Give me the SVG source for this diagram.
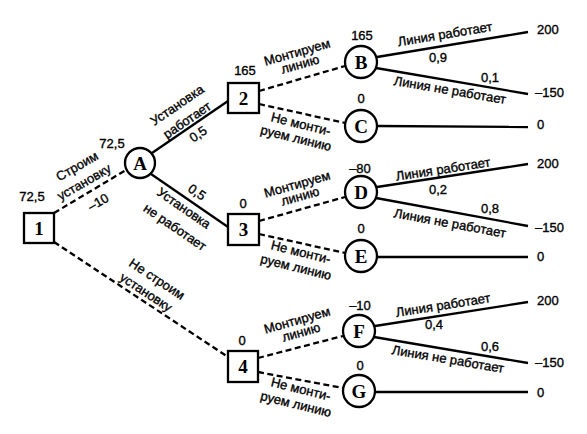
<svg xmlns="http://www.w3.org/2000/svg" width="587" height="434" viewBox="0 0 587 434">
<style>
.bg{fill:#fff}
.sq,.ci{fill:#fff;stroke:#000;stroke-width:2.3}
.nl{font-family:"Liberation Serif","Times New Roman",serif;font-weight:bold;font-size:19px;text-anchor:middle;fill:#000}
.s{stroke:#000;stroke-width:2.3;fill:none}
.d{stroke:#000;stroke-width:2.3;fill:none;stroke-dasharray:6 3.5}
.t{font-family:"Liberation Sans",Arial,sans-serif;font-size:13px;fill:#000;stroke:#000;stroke-width:0.35;text-anchor:middle}
.v{font-family:"Liberation Sans",Arial,sans-serif;font-size:13px;fill:#000;stroke:#000;stroke-width:0.35}
</style>
<rect class="bg" width="587" height="434"/>
<g id="connectors">
<line class="d" x1="54" y1="213" x2="126" y2="170"/>
<line class="d" x1="54" y1="242" x2="228" y2="357"/>
<line class="s" x1="152" y1="153" x2="228" y2="101"/>
<line class="s" x1="151" y1="174" x2="228" y2="227"/>
<line class="d" x1="259" y1="91" x2="345" y2="66"/>
<line class="d" x1="259" y1="104" x2="345" y2="123"/>
<line class="d" x1="259" y1="221" x2="345" y2="197"/>
<line class="d" x1="259" y1="234" x2="345" y2="253"/>
<line class="d" x1="258" y1="358" x2="343" y2="336"/>
<line class="d" x1="258" y1="372" x2="343" y2="388"/>
<line class="s" x1="377" y1="57" x2="528" y2="32"/>
<line class="s" x1="376" y1="68" x2="528" y2="94"/>
<line class="s" x1="377" y1="126" x2="528" y2="127"/>
<line class="s" x1="377" y1="187" x2="528" y2="164"/>
<line class="s" x1="376" y1="198" x2="528" y2="226"/>
<line class="s" x1="377" y1="257" x2="528" y2="257"/>
<line class="s" x1="375" y1="326" x2="528" y2="302"/>
<line class="s" x1="374" y1="337" x2="528" y2="363"/>
<line class="s" x1="375" y1="392" x2="528" y2="392"/>
<text class="t" transform="translate(77,166) rotate(-30)" dy=".35em">Строим</text>
<text class="t" transform="translate(84,182) rotate(-30)" dy=".35em">установку</text>
<text class="t" transform="translate(98,202) rotate(-30)" dy=".35em">–10</text>
<text class="t" transform="translate(157,279) rotate(33.5)" dy=".35em">Не строим</text>
<text class="t" transform="translate(146,292) rotate(33.5)" dy=".35em">установку</text>
<text class="t" transform="translate(177,105) rotate(-34.4)" dy=".35em">Установка</text>
<text class="t" transform="translate(187,120) rotate(-34.4)" dy=".35em">работает</text>
<text class="t" transform="translate(198,134) rotate(-34.4)" dy=".35em">0,5</text>
<text class="t" transform="translate(184,208) rotate(34.5)" dy=".35em">Установка</text>
<text class="t" transform="translate(175,227) rotate(34.5)" dy=".35em">не работает</text>
<text class="t" transform="translate(197,192) rotate(34.5)" dy=".35em">0,5</text>
<text class="t" transform="translate(297,52) rotate(-16)" dy=".35em">Монтируем</text>
<text class="t" transform="translate(300,64) rotate(-16)" dy=".35em">линию</text>
<text class="t" transform="translate(301,124) rotate(14)" dy=".35em">Не монти-</text>
<text class="t" transform="translate(296,138) rotate(14)" dy=".35em">руем линию</text>
<text class="t" transform="translate(297,184) rotate(-16)" dy=".35em">Монтируем</text>
<text class="t" transform="translate(300,196) rotate(-16)" dy=".35em">линию</text>
<text class="t" transform="translate(301,252) rotate(14)" dy=".35em">Не монти-</text>
<text class="t" transform="translate(296,267) rotate(14)" dy=".35em">руем линию</text>
<text class="t" transform="translate(297,320) rotate(-16)" dy=".35em">Монтируем</text>
<text class="t" transform="translate(301,332) rotate(-16)" dy=".35em">линию</text>
<text class="t" transform="translate(301,389) rotate(14)" dy=".35em">Не монти-</text>
<text class="t" transform="translate(296,404) rotate(14)" dy=".35em">руем линию</text>
<text class="t" transform="translate(445,34) rotate(-9.4)" dy=".35em">Линия работает</text>
<text class="t" x="438" y="57" dy=".35em">0,9</text>
<text class="t" x="490" y="77" dy=".35em">0,1</text>
<text class="t" transform="translate(450,90) rotate(9.7)" dy=".35em">Линия не работает</text>
<text class="t" transform="translate(443,169) rotate(-8.7)" dy=".35em">Линия работает</text>
<text class="t" x="438" y="189" dy=".35em">0,2</text>
<text class="t" x="490" y="208" dy=".35em">0,8</text>
<text class="t" transform="translate(450,223) rotate(10.4)" dy=".35em">Линия не работает</text>
<text class="t" transform="translate(443,305) rotate(-8.9)" dy=".35em">Линия работает</text>
<text class="t" x="434" y="324" dy=".35em">0,4</text>
<text class="t" x="490" y="346" dy=".35em">0,6</text>
<text class="t" transform="translate(448,359) rotate(9.6)" dy=".35em">Линия не работает</text>
<text class="v" x="537" y="29" dy=".35em">200</text>
<text class="v" x="535" y="92" dy=".35em">–150</text>
<text class="v" x="537" y="124" dy=".35em">0</text>
<text class="v" x="537" y="163" dy=".35em">200</text>
<text class="v" x="535" y="227" dy=".35em">–150</text>
<text class="v" x="537" y="256" dy=".35em">0</text>
<text class="v" x="537" y="300" dy=".35em">200</text>
<text class="v" x="535" y="362" dy=".35em">–150</text>
<text class="v" x="537" y="392" dy=".35em">0</text>
</g>
<g id="n1"><rect class="sq" x="24" y="213" width="30" height="30"/><text class="nl" x="39" y="235">1</text><text class="t" x="32" y="196" dy=".35em">72,5</text></g>
<g id="nA"><circle class="ci" cx="140" cy="163" r="15"/><text class="nl" x="140" y="170">A</text><text class="t" x="112" y="143" dy=".35em">72,5</text></g>
<g id="n2"><rect class="sq" x="228" y="83" width="31" height="30"/><text class="nl" x="243.5" y="105">2</text><text class="t" x="245" y="70" dy=".35em">165</text></g>
<g id="n3"><rect class="sq" x="228" y="214" width="31" height="31"/><text class="nl" x="243.5" y="236">3</text><text class="t" x="243" y="203" dy=".35em">0</text></g>
<g id="n4"><rect class="sq" x="228" y="351" width="30" height="31"/><text class="nl" x="243" y="373">4</text><text class="t" x="242" y="340" dy=".35em">0</text></g>
<g id="nB"><circle class="ci" cx="361" cy="62" r="16"/><text class="nl" x="361" y="69">B</text><text class="t" x="362" y="35" dy=".35em">165</text></g>
<g id="nC"><circle class="ci" cx="361" cy="126" r="16"/><text class="nl" x="361" y="133">C</text><text class="t" x="361" y="98" dy=".35em">0</text></g>
<g id="nD"><circle class="ci" cx="361" cy="192" r="16"/><text class="nl" x="361" y="199">D</text><text class="t" x="360" y="168" dy=".35em">–80</text></g>
<g id="nE"><circle class="ci" cx="361" cy="256" r="16"/><text class="nl" x="361" y="263">E</text><text class="t" x="361" y="228" dy=".35em">0</text></g>
<g id="nF"><circle class="ci" cx="359" cy="331" r="16"/><text class="nl" x="359" y="338">F</text><text class="t" x="360" y="305" dy=".35em">–10</text></g>
<g id="nG"><circle class="ci" cx="359" cy="391" r="16"/><text class="nl" x="359" y="398">G</text><text class="t" x="360" y="365" dy=".35em">0</text></g>
</svg>
